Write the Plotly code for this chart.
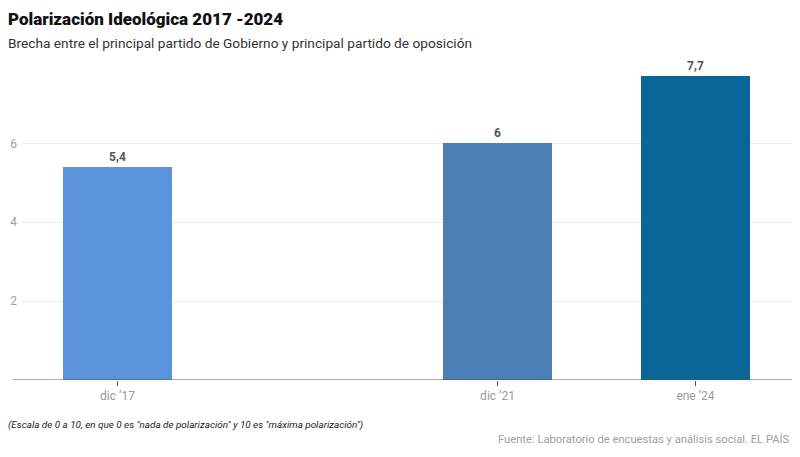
import plotly.graph_objects as go

fechas = ["2017-12-01", "2021-12-01", "2024-01-01"]
etiquetas = ["dic ’17", "dic ’21", "ene ’24"]
valores = [5.4, 6.0, 7.7]
textos = ["5,4", "6", "7,7"]
colores = ["#5B94DA", "#4C7FB6", "#086699"]
y_ticks = [2, 4, 6]

W, H = 800, 457
ml, mr, mt, mb = 22, 8, 70, 76.5
PW, PH = W - ml - mr, H - mt - mb

bar_width_ms = 419 * 86400000

fig = go.Figure()
fig.add_trace(go.Bar(
    x=fechas, y=valores, width=[bar_width_ms] * len(fechas),
    marker=dict(color=colores, line=dict(width=0)),
    text=textos, textposition="outside", cliponaxis=False,
    textfont=dict(family="Roboto", size=12, color="#555555", weight="bold"),
    hoverinfo="skip",
))

fig.update_layout(
    width=W, height=H,
    margin=dict(l=ml, r=mr, t=mt, b=mb),
    plot_bgcolor="white", paper_bgcolor="white",
    showlegend=False,
    bargap=0,
    xaxis=dict(
        type="date",
        range=["2016-11-29", "2025-01-06"],
        tickvals=fechas, ticktext=etiquetas,
        showgrid=False, zeroline=False, showline=False,
        ticks="outside", ticklen=5, tickcolor="#555555", tickwidth=1,
        tickfont=dict(family="Roboto", size=12, color="#9a9a9a"),
    ),
    yaxis=dict(
        range=[0, 7.86],
        tickvals=y_ticks,
        showgrid=True, gridcolor="#ececec", gridwidth=1,
        zeroline=False, showline=False,
        ticks="", ticklabelstandoff=4,
        tickfont=dict(family="Roboto", size=12, color="#a0a0a0"),
    ),
    shapes=[dict(type="line", xref="paper", yref="y", x0=-9 / PW, x1=1,
                 y0=0, y1=0, line=dict(color="#555555", width=1), layer="above")],
    annotations=[
        dict(text="Polarización Ideológica 2017 -2024", xref="paper", yref="paper",
             x=-16 / PW, y=1 + (mt - 7) / PH, xanchor="left", yanchor="top",
             showarrow=False, font=dict(family="Roboto", size=17, color="#111111", weight=900)),
        dict(text="Brecha entre el principal partido de Gobierno y principal partido de oposición",
             xref="paper", yref="paper",
             x=-16 / PW, y=1 + (mt - 33) / PH, xanchor="left", yanchor="top",
             showarrow=False, font=dict(family="Roboto", size=13.7, color="#333333")),
        dict(text="<i>(Escala de 0 a 10, en que 0 es \"nada de polarización\" y 10 es \"máxima polarización\")</i>",
             xref="paper", yref="paper",
             x=-16 / PW, y=-(418 - (H - mb)) / PH, xanchor="left", yanchor="top",
             showarrow=False, font=dict(family="Roboto", size=9.9, color="#222222")),
        dict(text="Fuente: Laboratorio de encuestas y análisis social. EL PAÍS",
             xref="paper", yref="paper",
             x=1, y=-(432 - (H - mb)) / PH, xanchor="right", yanchor="top",
             showarrow=False, font=dict(family="Roboto", size=11.2, color="#a0a0a0")),
    ],
)

fig.write_html("out.html", config={"displayModeBar": False},
               post_script="document.body.style.margin='0';")
